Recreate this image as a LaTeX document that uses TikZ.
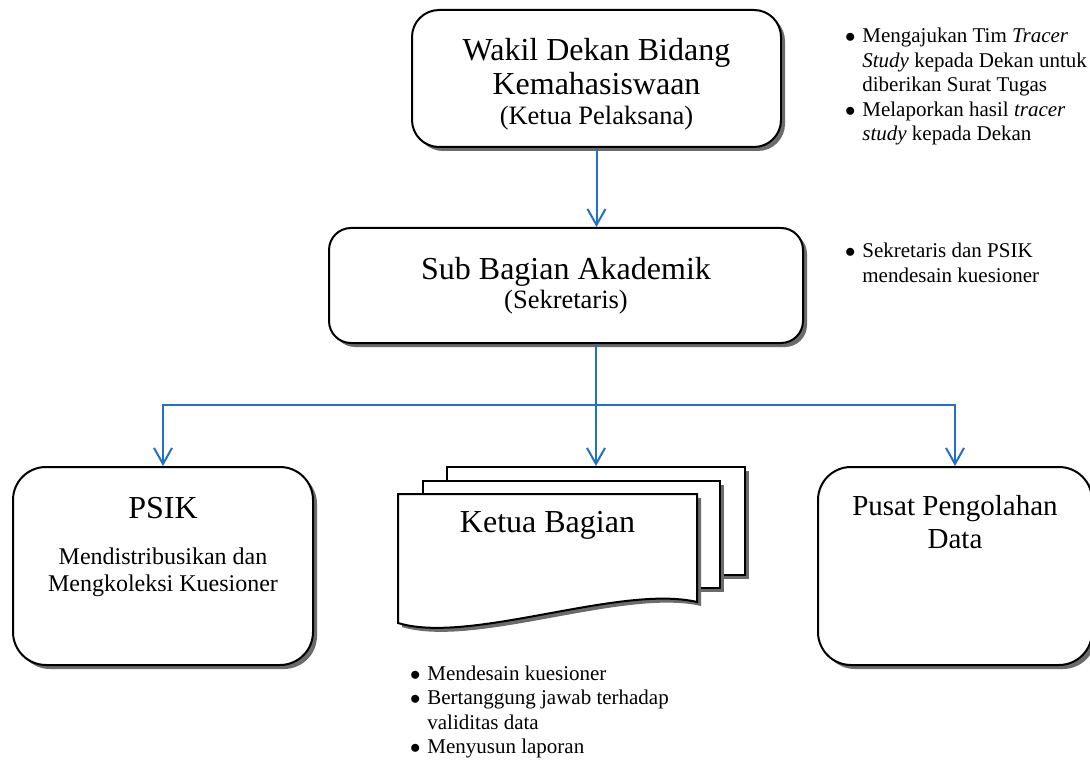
\documentclass[tikz,border=0pt]{standalone}
\usepackage{fontspec}
\setmainfont{Liberation Serif}
\usepackage{tikz}
\usetikzlibrary{positioning,shadows,arrows.meta}
\definecolor{flowblue}{RGB}{31,113,201}
\newcommand{\headsize}{\fontsize{32}{34}\selectfont}
\newcommand{\rolesize}{\fontsize{26.5}{30}\selectfont}
\newcommand{\descsize}{\fontsize{24}{27}\selectfont}
\newcommand{\pusatsize}{\fontsize{29}{33}\selectfont}
\newcommand{\notesize}{\fontsize{21}{24.5}\selectfont}
\newcommand{\itemdot}{$\bullet$}

\begin{document}
\begin{tikzpicture}[x=1pt,y=-1pt,line width=2pt]
  \tikzset{boxshadow/.style={drop shadow={shadow xshift=4pt,shadow yshift=-4pt,fill=black!58,opacity=1}},
           unit/.style={draw,fill=white,rounded corners=#1,boxshadow,inner sep=0pt,align=center},
           unit/.default=25pt,
           page/.style={draw,fill=white,boxshadow,inner sep=0pt},
           flow/.style={draw=flowblue,line width=2pt},
           toarrow/.style={flow,-{Straight Barb[length=16pt,width=18pt]}},
           note/.style={anchor=base west,inner sep=0pt,font=\notesize}}
  \useasboundingbox (0,0) rectangle (1090,762);

  \node[unit=27pt,minimum width=369pt,minimum height=137pt] (wakil) at (596.5,78.5) {};
  \node[font=\headsize,align=center,inner sep=0pt] (wakiltext) at ([yshift=-6pt]wakil.center)
    {Wakil Dekan Bidang\\Kemahasiswaan\\[-4pt]{\rolesize (Ketua Pelaksana)}};
  \node[unit=22pt,minimum width=474pt,minimum height=115pt,font=\headsize] (sub) at (566,285.5)
    {Sub Bagian Akademik\\[-5pt]{\rolesize (Sekretaris)}};

  \node[unit=33pt,minimum width=300pt,minimum height=198pt] (psik) at (163,566) {};
  \node[font=\headsize,inner sep=0pt,below=30pt of psik.north] (psiktitle) {PSIK};
  \node[font=\descsize,align=center,inner sep=0pt,below=27pt of psiktitle] (psikdesc)
    {Mendistribusikan dan\\Mengkoleksi Kuesioner};

  \node[page,minimum width=298pt,minimum height=108pt] (kbback) at (596,521) {};
  \node[page,minimum width=297pt,minimum height=107pt] (kbmid) at (571.5,534.5) {};
  \draw[fill=white,boxshadow] (398,494) -- (697,494) -- (697,602)
    .. controls (620,584) and (470,645) .. (398,623) -- cycle;
  \node[font=\headsize,inner sep=0pt] (kb) at (547.5,525) {Ketua Bagian};

  \node[unit=33pt,minimum width=274pt,minimum height=198pt] (pusat) at (955,566) {};
  \node[font=\pusatsize,align=center,inner sep=0pt,below=28pt of pusat.north] (pusattitle)
    {Pusat Pengolahan\\Data};

  \coordinate (bus) at (596,405);
  \draw[toarrow] (wakil.south) -- (wakil.south |- sub.north);
  \draw[flow] (bus |- sub.south) -- (bus);
  \draw[toarrow] (bus) -| (psik.north);
  \draw[toarrow] (bus) -- (kbback.north);
  \draw[toarrow] (bus) -| (pusat.north);

  \node[note] (wakilnote) at (844,43) {\begin{tabular}[t]{@{}l@{\hspace{7pt}}l@{}}
    \itemdot & Mengajukan Tim \textit{Tracer}\\
             & \textit{Study} kepada Dekan untuk\\
             & diberikan Surat Tugas\\
    \itemdot & Melaporkan hasil \textit{tracer}\\
             & \textit{study} kepada Dekan
  \end{tabular}};
  \node[note] (subnote) at (844,258) {\begin{tabular}[t]{@{}l@{\hspace{7pt}}l@{}}
    \itemdot & Sekretaris dan PSIK\\
             & mendesain kuesioner
  \end{tabular}};
  \node[note] (kbnote) at (409,680) {\begin{tabular}[t]{@{}l@{\hspace{7pt}}l@{}}
    \itemdot & Mendesain kuesioner\\
    \itemdot & Bertanggung jawab terhadap\\
             & validitas data\\
    \itemdot & Menyusun laporan
  \end{tabular}};
\end{tikzpicture}
\end{document}
